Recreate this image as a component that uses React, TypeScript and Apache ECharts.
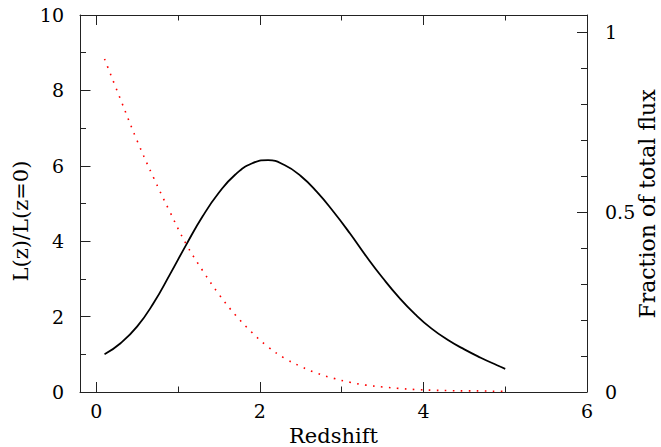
import React, { useEffect, useRef } from "react";
import * as echarts from "echarts";

// Redshift sample points
const zBlack = [0.1, 0.3, 0.5, 0.7, 0.9, 1.1, 1.3, 1.5, 1.7, 1.9, 2.1, 2.3, 2.5, 2.7, 2.9, 3.1, 3.3, 3.5, 3.7, 3.9, 4.1, 4.3, 4.5, 4.7, 4.9, 5.0];
// L(z)/L(z=0)
const lumRatio = [1.0, 1.3, 1.74, 2.36, 3.12, 3.91, 4.66, 5.29, 5.77, 6.06, 6.15, 6.02, 5.73, 5.3, 4.78, 4.21, 3.6, 3.03, 2.51, 2.06, 1.68, 1.38, 1.13, 0.91, 0.71, 0.615];

const zRed = [0.1, 0.3, 0.5, 0.7, 0.9, 1.1, 1.3, 1.5, 1.7, 1.9, 2.1, 2.3, 2.5, 2.7, 2.9, 3.1, 3.3, 3.5, 3.7, 3.9, 4.1, 4.3, 4.5, 4.7, 4.9, 5.0];
// Fraction of total flux
const fluxFraction = [0.925, 0.81, 0.697, 0.595, 0.5, 0.41, 0.337, 0.271, 0.214, 0.166, 0.125, 0.094, 0.071, 0.052, 0.038, 0.027, 0.019, 0.014, 0.01, 0.007, 0.005, 0.004, 0.003, 0.003, 0.002, 0.002];

const xMajorTicks = [0, 2, 4, 6];
const xMinorTicks = [1, 3, 5];
const rightLabels = [0, 0.5, 1];
const rightMajorTicks = [0.5, 1];
const rightMinorTicks = [0.1, 0.2, 0.3, 0.4, 0.6, 0.7, 0.8, 0.9];

const FONT = "DejaVu Serif";
const AXIS_COLOR = "#222";

export default function App() {
  const ref = useRef<HTMLDivElement>(null);
  useEffect(() => {
    if (!ref.current) return;
    const chart = echarts.init(ref.current, undefined, { renderer: "svg" });
    const lineStyle = { color: AXIS_COLOR, width: 1 };
    const baseX = {
      type: "value" as const,
      min: -0.2,
      max: 6,
      splitLine: { show: false },
    };
    const baseYR = {
      type: "value" as const,
      min: 0,
      max: 1.047,
      position: "right" as const,
      splitLine: { show: false },
    };
    chart.setOption({
      animation: false,
      backgroundColor: "#fff",
      grid: { left: 80, right: 74, top: 15, bottom: 55, containLabel: false },
      xAxis: [
        {
          ...baseX,
          position: "bottom",
          axisLine: { show: true, onZero: false, lineStyle },
          axisTick: { show: true, inside: true, length: 10, customValues: xMajorTicks, lineStyle },
          axisLabel: { show: true, customValues: xMajorTicks, margin: 9, fontFamily: FONT, fontSize: 19, color: "#000" },
        },
        {
          ...baseX,
          position: "bottom",
          axisLine: { show: false, onZero: false },
          axisTick: { show: true, inside: true, length: 5.5, customValues: xMinorTicks, lineStyle },
          axisLabel: { show: false },
        },
        {
          ...baseX,
          position: "top",
          axisLine: { show: true, onZero: false, lineStyle },
          axisTick: { show: true, inside: true, length: 10, customValues: xMajorTicks, lineStyle },
          axisLabel: { show: false },
        },
        {
          ...baseX,
          position: "top",
          axisLine: { show: false, onZero: false },
          axisTick: { show: true, inside: true, length: 5.5, customValues: xMinorTicks, lineStyle },
          axisLabel: { show: false },
        },
      ],
      yAxis: [
        {
          type: "value",
          min: 0,
          max: 10,
          interval: 2,
          position: "left",
          splitLine: { show: false },
          axisLine: { show: true, onZero: false, lineStyle },
          axisTick: { show: true, inside: true, length: 10.5, lineStyle },
          minorTick: { show: true, splitNumber: 2, length: 6, lineStyle },
          axisLabel: { show: true, margin: 16, fontFamily: FONT, fontSize: 19, color: "#000" },
        },
        {
          ...baseYR,
          axisLine: { show: true, onZero: false, lineStyle },
          axisTick: { show: true, inside: true, length: 10, customValues: rightMajorTicks, lineStyle },
          axisLabel: { show: true, customValues: rightLabels, margin: 18, fontFamily: FONT, fontSize: 19, color: "#000" },
        },
        {
          ...baseYR,
          axisLine: { show: false, onZero: false },
          axisTick: { show: true, inside: true, length: 6, customValues: rightMinorTicks, lineStyle },
          axisLabel: { show: false },
        },
      ],
      series: [
        {
          type: "line",
          xAxisIndex: 0,
          yAxisIndex: 0,
          data: zBlack.map((z, i) => [z, lumRatio[i]]),
          showSymbol: false,
          smooth: 0.5,
          lineStyle: { color: "#000", width: 1.8 },
        },
        {
          type: "line",
          xAxisIndex: 0,
          yAxisIndex: 1,
          data: zRed.map((z, i) => [z, fluxFraction[i]]),
          showSymbol: false,
          smooth: 0.4,
          lineStyle: { color: "#ff0000", width: 1.6, type: [1.6, 6.4] },
        },
      ],
      graphic: [
        {
          type: "text",
          x: 21,
          y: 221,
          rotation: Math.PI / 2,
          style: { text: "L(z)/L(z=0)", font: `21px "${FONT}"`, fill: "#000", align: "center", verticalAlign: "middle" },
        },
        {
          type: "text",
          x: 647,
          y: 204,
          rotation: Math.PI / 2,
          style: { text: "Fraction of total flux", font: `22px "${FONT}"`, fill: "#000", align: "center", verticalAlign: "middle" },
        },
        {
          type: "text",
          x: 333.5,
          y: 436,
          style: { text: "Redshift", font: `21px "${FONT}"`, fill: "#000", align: "center", verticalAlign: "middle" },
        },
      ],
    });
    return () => chart.dispose();
  }, []);
  return <div ref={ref} style={{ width: 661, height: 447, position: "absolute", left: 0, top: 0 }} />;
}
